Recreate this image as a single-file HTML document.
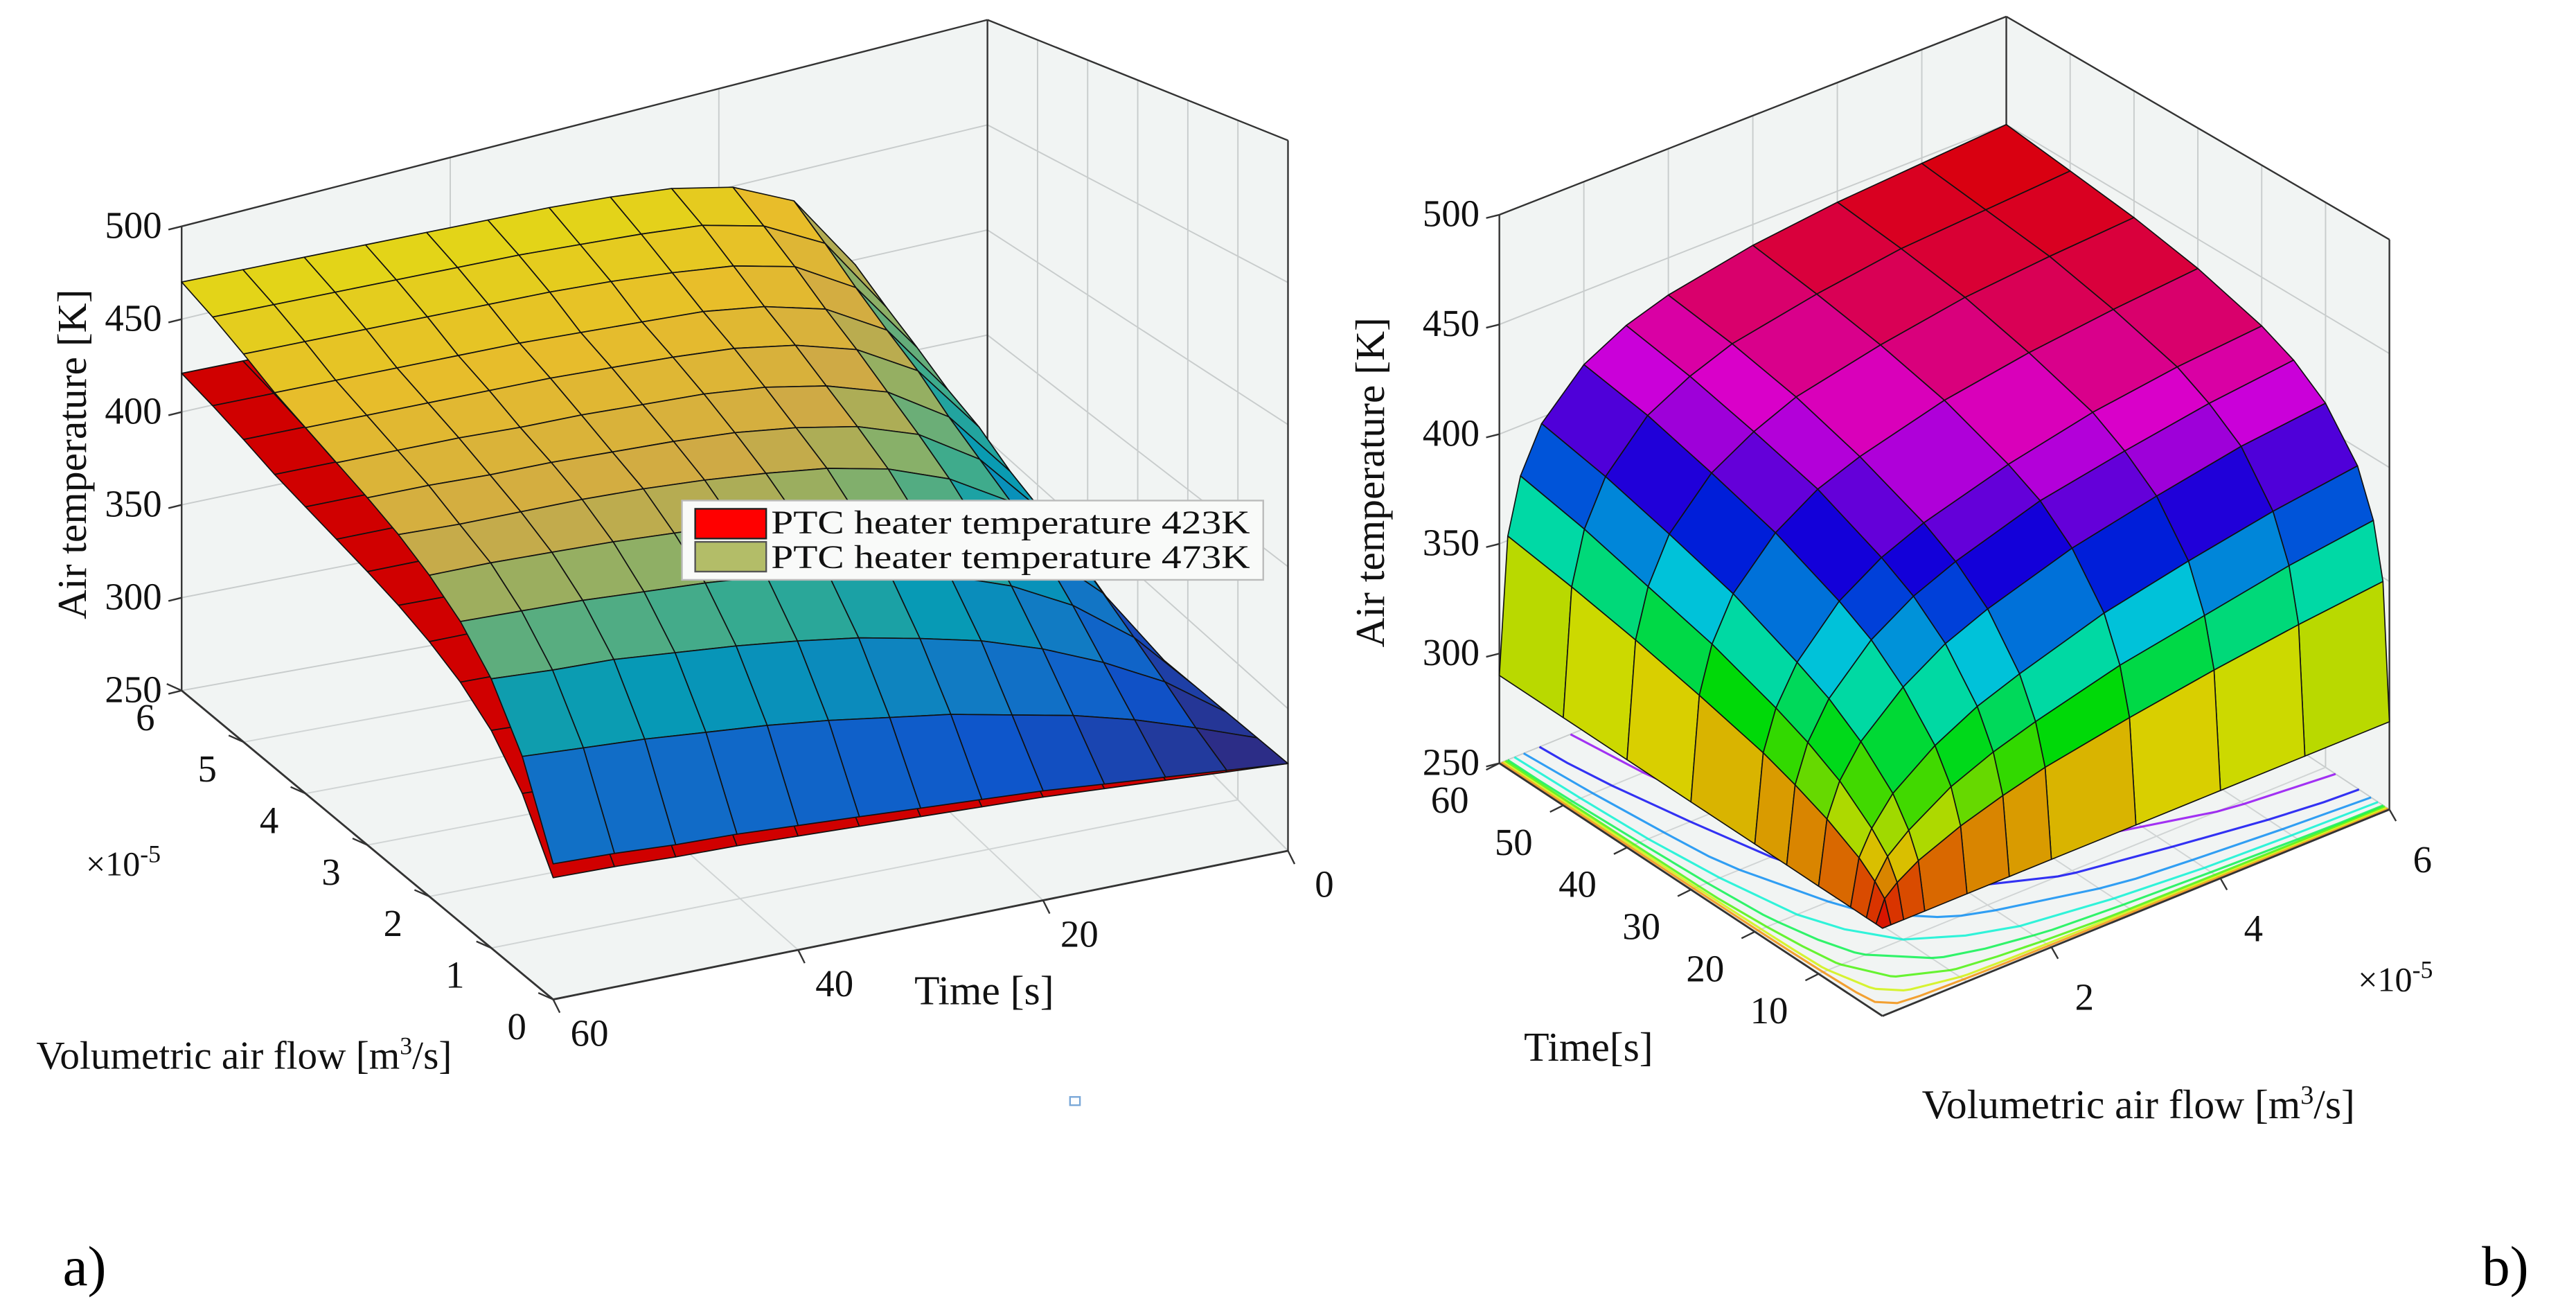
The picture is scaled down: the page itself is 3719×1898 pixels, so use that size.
<!DOCTYPE html>
<html><head><meta charset="utf-8"><style>
html,body{margin:0;padding:0;background:#fff;}
svg{display:block;font-family:"Liberation Serif",serif;}
</style></head><body>
<svg id="chart" xmlns="http://www.w3.org/2000/svg" width="3719" height="1898" viewBox="0 0 1560 796" preserveAspectRatio="none">
<rect x="0" y="0" width="1560" height="796" fill="#fff"/>
<g id="left"></g>
<g id="right"></g>
<text x="38" y="778" font-size="34">a)</text>
<text x="1503" y="778" font-size="34">b)</text>
<rect x="648" y="664" width="6" height="5" fill="none" stroke="#7aa8d8" stroke-width="1"/>
</svg>
<script>
// ---------- data ----------
const leftTimes = [0,5,10,15,20,25,30,35,40,45,50,55,60];
const leftFlows = [0,0.5,1,1.5,2,2.5,3,3.5,4,4.5,5,5.5,6];
const ambientTemp = 297;
const heaterTemps = [423, 473];
const leftTemp473 = [
[297,300,303,306,309,311,313,315,317,319,320,322,323],
[297,309,320,329,336,343,348,353,357,360,363,365,367],
[297,320,337,351,362,370,377,382,386,389,392,393,395],
[297,330,354,371,383,392,398,403,406,408,410,411,412],
[297,340,369,388,400,408,414,417,419,421,422,423,423],
[297,350,382,401,413,420,424,427,429,430,430,430,431],
[297,357,391,411,422,428,432,434,435,436,436,437,437],
[297,364,400,420,430,436,439,440,441,441,442,442,442],
[297,374,411,429,438,443,445,446,447,447,447,447,447],
[297,380,419,437,445,449,450,451,452,452,452,452,452],
[297,389,428,446,453,456,458,459,459,459,459,459,459],
[297,397,438,454,461,463,464,465,465,465,465,465,465],
[297,406,447,461,467,469,470,470,470,470,470,470,470]];
const rightTimes = [0,1,2.5,5,10,15,20,30,40,50,60];
const rightFlows = [0,0.1,0.25,0.5,1,1.5,2,3,4,5,6];
const rightTemp = [
[290,290,290,290,290,290,290,290,290,290,290],
[290,300,305,311,319,325,330,337,343,348,352],
[290,305,314,322,334,342,348,358,365,372,377],
[290,311,322,334,348,358,365,377,385,392,397],
[290,319,334,348,365,377,385,397,405,412,416],
[290,325,342,358,377,389,397,409,416,422,426],
[290,330,348,365,385,397,405,416,424,429,432],
[290,337,358,377,397,409,416,426,432,436,439],
[290,343,365,385,405,416,424,432,438,441,443],
[290,348,372,392,412,422,429,436,441,443,445],
[290,352,377,397,416,426,432,439,443,445,447]];
const contourLevels = [305,320,335,350,365,380,395,410];
const zTicks = [250,300,350,400,450,500];
const leftFlowTicks = [0,1,2,3,4,5,6];
const leftTimeTicks = [0,20,40,60];
const rightTimeTicks = [10,20,30,40,50,60];
const rightFlowTicks = [2,4,6];

// ---------- helpers ----------
const NS='http://www.w3.org/2000/svg';
function mk(tag, parent){const e=document.createElementNS(NS,tag);parent.appendChild(e);return e;}
function pts(a){return a.map(p=>p[0].toFixed(1)+','+p[1].toFixed(1)).join(' ');}
function lerp(a,b,u){return [a[0]+(b[0]-a[0])*u,a[1]+(b[1]-a[1])*u];}
function parula(u){
  const s=[[0,[53,42,135]],[0.15,[15,92,221]],[0.3,[20,129,214]],[0.45,[6,167,198]],[0.55,[56,185,158]],[0.65,[146,191,115]],[0.75,[225,185,75]],[0.87,[252,206,46]],[1,[245,238,20]]];
  u=Math.max(0,Math.min(1,u));
  for(let k=1;k<s.length;k++){if(u<=s[k][0]){const w=(u-s[k-1][0])/(s[k][0]-s[k-1][0]);return s[k-1][1].map((c,m)=>c+(s[k][1][m]-c)*w);}}
  return s[s.length-1][1];
}
function hsv(u){
  let h=Math.max(0,Math.min(1,u))*6;if(h>=6)h=5.999;const i=Math.floor(h),f=h-i;
  const q=1-f;const r=[[1,f,0],[q,1,0],[0,1,f],[0,q,1],[f,0,1],[1,0,q]][i];return r.map(c=>c*255);
}
function rgb(c,k){return 'rgb('+c.map(v=>Math.round(v*k)).join(',')+')';}
function line(parent,a,b,stroke,w){const e=mk('line',parent);e.setAttribute('x1',a[0]);e.setAttribute('y1',a[1]);e.setAttribute('x2',b[0]);e.setAttribute('y2',b[1]);e.setAttribute('stroke',stroke);e.setAttribute('stroke-width',w);return e;}
function text(parent,x,y,s,size,anchor){const e=mk('text',parent);e.setAttribute('x',x);e.setAttribute('y',y);e.setAttribute('font-size',size);e.setAttribute('text-anchor',anchor||'middle');e.setAttribute('fill','#111');e.textContent=s;return e;}

// ================= LEFT CHART =================
const gL=document.getElementById('left');
const LA=[110,418], LB=[335,605], LC=[780,515], LD=[598,330];
const LT1=[110,137], LT2=[598,12], LT3=[780,85];
const kzL=(LA[1]-LT1[1])/250;
function pL(t,f,T){return [LC[0]+t/60*(LB[0]-LC[0])+f/6*(LA[0]-LB[0]), LC[1]+t/60*(LB[1]-LC[1])+f/6*(LA[1]-LB[1])-(T-250)*kzL];}
let w=mk('polygon',gL);w.setAttribute('points',pts([LA,LT1,LT2,LD]));w.setAttribute('fill','#f1f4f3');


w=mk('polygon',gL);w.setAttribute('points',pts([LD,LT2,LT3,LC]));w.setAttribute('fill','#f1f4f3');


w=mk('polygon',gL);w.setAttribute('points',pts([LA,LB,LC,LD]));w.setAttribute('fill','#f1f4f3');


const gridL=mk('g',gL);


zTicks.forEach(v=>{const u=(v-250)/250;
  const a=lerp(LA,LT1,u),b=lerp(LD,LT2,u),c=lerp(LC,LT3,u);
  line(gridL,a,b,'#c8cccc',0.8);line(gridL,b,c,'#c8cccc',0.8);});
leftTimeTicks.forEach(v=>{const u=v/60;
  const a=lerp(LD,LA,u),b=lerp(LT2,LT1,u);line(gridL,a,b,'#c8cccc',0.8);
  const c=lerp(LC,LB,u),d=lerp(LD,LA,u);line(gridL,c,d,'#d0d4d4',0.8);});
[1,2,3,4,5].forEach(v=>{const u=v/6;
  const a=lerp(LC,LD,u),b=lerp(LT3,LT2,u);line(gridL,a,b,'#c8cccc',0.8);
  const c=lerp(LB,LA,u),d=lerp(LC,LD,u);line(gridL,c,d,'#d0d4d4',0.8);});
[[LT1,LT2],[LT2,LT3],[LT2,LD],[LA,LT1],[LT3,LC]].forEach(p=>line(gL,p[0],p[1],'#333',1));
const surfL=mk('g',gL);


[0,1].forEach(s=>{
  const th=heaterTemps[s];
  const cells=[];
  for(let j=0;j<leftFlows.length-1;j++)for(let i=0;i<leftTimes.length-1;i++){
    const val=(jj,ii)=>ambientTemp+(leftTemp473[jj][ii]-ambientTemp)*(th-ambientTemp)/(heaterTemps[1]-ambientTemp);
    const q=[[i,j],[i+1,j],[i+1,j+1],[i,j+1]].map(c=>pL(leftTimes[c[0]],leftFlows[c[1]],val(c[1],c[0])));
    const avg=(val(j,i)+val(j,i+1)+val(j+1,i)+val(j+1,i+1))/4;
    const fy=LC[1]+(leftTimes[i]+2.5)/60*(LB[1]-LC[1])+(leftFlows[j]+0.25)/6*(LA[1]-LB[1]);
    cells.push({q,avg,fy});
  }
  cells.sort((a,b)=>a.fy-b.fy);
  const g=mk('g',surfL);
  
  
  cells.forEach(c=>{const p=mk('polygon',g);p.setAttribute('points',pts(c.q));
    p.setAttribute('fill', s===0?'#d00000':rgb(parula((c.avg-ambientTemp)/(heaterTemps[1]-ambientTemp)),0.92));
    p.setAttribute('stroke','#111');p.setAttribute('stroke-width','0.7');p.setAttribute('stroke-linejoin','round');
    
    });
});
line(gL,LA,LB,'#333',1.2);line(gL,LB,LC,'#333',1.2);
const axL=mk('g',gL);


zTicks.forEach(v=>{const p=lerp(LA,LT1,(v-250)/250);line(axL,p,[p[0]-8,p[1]+2],'#333',1);
  const t=text(axL,p[0]-12,p[1]+7,String(v),23,'end');
  
  });
leftFlowTicks.forEach(v=>{const p=lerp(LB,LA,v/6);line(axL,p,[p[0]-9,p[1]-4],'#333',1);
  const t=text(axL,p[0]-22,p[1]+24,String(v),23,'middle');
  
  });
leftTimeTicks.forEach(v=>{const p=lerp(LC,LB,v/60);line(axL,p,[p[0]+4,p[1]+8],'#333',1);
  const t=text(axL,p[0]+22,p[1]+28,String(v),23,'middle');
  
  });
let tl=text(gL,52,275,'Air temperature [K]',25,'middle');tl.setAttribute('transform','rotate(-90 52 275)');


tl=text(gL,596,608,'Time [s]',25,'middle');


tl=text(gL,22,647,'',24,'start');tl.innerHTML='Volumetric air flow [m<tspan dy="-9" font-size="15">3</tspan><tspan dy="9">/s]</tspan>';


tl=text(gL,52,530,'',21,'start');tl.innerHTML='×10<tspan dy="-8" font-size="15">-5</tspan>';


const lg=mk('g',gL);


let r=mk('rect',lg);r.setAttribute('x',413);r.setAttribute('y',303);r.setAttribute('width',352);r.setAttribute('height',48);r.setAttribute('fill','#f9faf9');r.setAttribute('stroke','#bbb');
r=mk('rect',lg);r.setAttribute('x',421);r.setAttribute('y',308);r.setAttribute('width',43);r.setAttribute('height',18);r.setAttribute('fill','#f00');r.setAttribute('stroke','#222');


r=mk('rect',lg);r.setAttribute('x',421);r.setAttribute('y',328);r.setAttribute('width',43);r.setAttribute('height',18);r.setAttribute('fill','#b3bd68');r.setAttribute('stroke','#555');


tl=text(lg,467,323,'PTC heater temperature 423K',20,'start');tl.setAttribute('textLength','290');tl.setAttribute('lengthAdjust','spacingAndGlyphs');


tl=text(lg,467,344,'PTC heater temperature 473K',20,'start');tl.setAttribute('textLength','290');tl.setAttribute('lengthAdjust','spacingAndGlyphs');



// ================= RIGHT CHART =================
const gR=document.getElementById('right');
const RF=[1140,615], RL=[908,462], RR=[1447,490], RB=[1215,337];
const RLt=[908,130], RBt=[1215,10], RRt=[1447,145];
const kzR=(RL[1]-RLt[1])/250;
function pR(t,f,T){return [RF[0]+t/60*(RL[0]-RF[0])+f/6*(RR[0]-RF[0]), RF[1]+t/60*(RL[1]-RF[1])+f/6*(RR[1]-RF[1])-(T-250)*kzR];}
w=mk('polygon',gR);w.setAttribute('points',pts([RL,RLt,RBt,RB]));w.setAttribute('fill','#f1f4f3');


w=mk('polygon',gR);w.setAttribute('points',pts([RB,RBt,RRt,RR]));w.setAttribute('fill','#f1f4f3');


w=mk('polygon',gR);w.setAttribute('points',pts([RL,RF,RR,RB]));w.setAttribute('fill','#f1f4f3');


const gridR=mk('g',gR);


zTicks.forEach(v=>{const u=(v-250)/250;const a=lerp(RL,RLt,u),b=lerp(RB,RBt,u),c=lerp(RR,RRt,u);
  line(gridR,a,b,'#c8cccc',0.8);line(gridR,b,c,'#c8cccc',0.8);});
[10,20,30,40,50].forEach(v=>{const u=v/60;const a=lerp(RR,RB,u),b=lerp(RRt,RBt,u);line(gridR,a,b,'#c8cccc',0.8);
  line(gridR,lerp(RF,RL,u),lerp(RR,RB,u),'#d0d4d4',0.8);});
[1,2,3,4,5].forEach(v=>{const u=v/6;const a=lerp(RL,RB,u),b=lerp(RLt,RBt,u);line(gridR,a,b,'#c8cccc',0.8);
  line(gridR,lerp(RF,RR,u),lerp(RL,RB,u),'#d0d4d4',0.8);});
[[RLt,RBt],[RBt,RRt],[RBt,RB],[RL,RLt],[RRt,RR]].forEach(p=>line(gR,p[0],p[1],'#333',1));
const gc=mk('g',gR);


const tMin=rightTemp[0][0], tMax=rightTemp[rightTemp.length-1][rightTimes.length-1];
contourLevels.forEach(L=>{
  const cp=[];
  for(let j=1;j<rightFlows.length;j++){const row=rightTemp[j];
    for(let i=0;i<row.length-1;i++){if((row[i]-L)*(row[i+1]-L)<=0&&row[i]!==row[i+1]){const u=(L-row[i])/(row[i+1]-row[i]);cp.push([rightTimes[i]+u*(rightTimes[i+1]-rightTimes[i]),rightFlows[j]]);break;}}}
  for(let i=1;i<rightTimes.length;i++){
    for(let j=0;j<rightFlows.length-1;j++){const a=rightTemp[j][i],b=rightTemp[j+1][i];if((a-L)*(b-L)<=0&&a!==b){const u=(L-a)/(b-a);cp.push([rightTimes[i],rightFlows[j]+u*(rightFlows[j+1]-rightFlows[j])]);break;}}}
  cp.sort((a,b)=>Math.atan2(a[1]/6,a[0]/60)-Math.atan2(b[1]/6,b[0]/60));
  const pl=mk('polyline',gc);pl.setAttribute('points',pts(cp.map(c=>pR(c[0],c[1],250))));
  pl.setAttribute('fill','none');pl.setAttribute('stroke',rgb(hsv((L-tMin)/(tMax-tMin)),0.95));pl.setAttribute('stroke-width','1.3');pl.setAttribute('stroke-opacity','0.8');
  
  
});
const sR=mk('g',gR);


const cellsR=[];
for(let j=0;j<rightFlows.length-1;j++)for(let i=0;i<rightTimes.length-1;i++){
  const q=[[i,j],[i+1,j],[i+1,j+1],[i,j+1]].map(c=>pR(rightTimes[c[0]],rightFlows[c[1]],rightTemp[c[1]][c[0]]));
  const avg=(rightTemp[j][i]+rightTemp[j][i+1]+rightTemp[j+1][i]+rightTemp[j+1][i+1])/4;
  const tc=(rightTimes[i]+rightTimes[i+1])/2, fc=(rightFlows[j]+rightFlows[j+1])/2;
  const fy=RF[1]+tc/60*(RL[1]-RF[1])+fc/6*(RR[1]-RF[1]);
  cellsR.push({q,avg,fy});
}
cellsR.sort((a,b)=>a.fy-b.fy);
cellsR.forEach(c=>{const p=mk('polygon',sR);p.setAttribute('points',pts(c.q));
  p.setAttribute('fill',rgb(hsv((c.avg-tMin)/(tMax-tMin)),0.85));
  p.setAttribute('stroke','#111');p.setAttribute('stroke-width','0.7');p.setAttribute('stroke-linejoin','round');
  
  });
line(gR,RL,RF,'#333',1.2);line(gR,RF,RR,'#333',1.2);
const axR=mk('g',gR);


zTicks.forEach(v=>{const p=lerp(RL,RLt,(v-250)/250);line(axR,p,[p[0]-8,p[1]+2],'#333',1);
  const t=text(axR,p[0]-12,p[1]+7,String(v),23,'end');
  
  });
rightTimeTicks.forEach(v=>{const p=lerp(RF,RL,v/60);line(axR,p,[p[0]-8,p[1]+4],'#333',1);
  const t=text(axR,p[0]-30,p[1]+30,String(v),23,'middle');
  
  });
rightFlowTicks.forEach(v=>{const p=lerp(RF,RR,v/6);line(axR,p,[p[0]+4,p[1]+7],'#333',1);
  const t=text(axR,p[0]+20,p[1]+38,String(v),23,'middle');
  
  });
tl=text(gR,838,292,'Air temperature [K]',25,'middle');tl.setAttribute('transform','rotate(-90 838 292)');


tl=text(gR,962,642,'Time[s]',25,'middle');


tl=text(gR,1295,677,'',25,'middle');tl.innerHTML='Volumetric air flow [m<tspan dy="-9" font-size="16">3</tspan><tspan dy="9">/s]</tspan>';


tl=text(gR,1428,600,'',21,'start');tl.innerHTML='×10<tspan dy="-8" font-size="15">-5</tspan>';


</script>
</body></html>
